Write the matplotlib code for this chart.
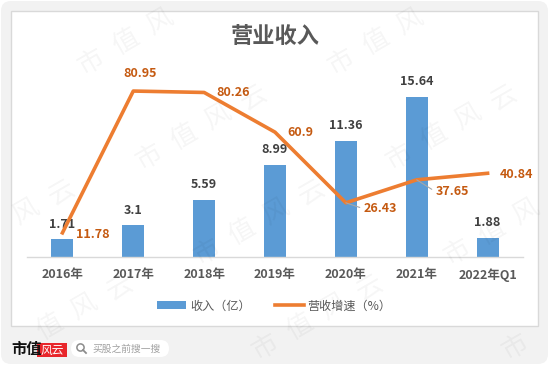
import numpy as np
import matplotlib.pyplot as plt
from matplotlib.patches import Rectangle, FancyBboxPatch, Circle
from matplotlib.lines import Line2D

plt.rcParams['font.family'] = ['Noto Sans CJK SC', 'DejaVu Sans']

# data
categories = ['2016年', '2017年', '2018年', '2019年', '2020年', '2021年', '2022年Q1']
revenue = [1.71, 3.1, 5.59, 8.99, 11.36, 15.64, 1.88]          # 收入（亿）
growth = [11.78, 80.95, 80.26, 60.9, 26.43, 37.65, 40.84]       # 营收增速（%）
revenue_labels = ['1.71', '3.1', '5.59', '8.99', '11.36', '15.64', '1.88']
growth_labels = ['11.78', '80.95', '80.26', '60.9', '26.43', '37.65', '40.84']

# label placement (pixels from the point), leader lines for two of them
growth_offsets = [(14, -2), (7, 18), (12, 0), (12, 0), (18, -6), (19, -12), (12, -1)]
growth_ha = ['left', 'center', 'left', 'left', 'left', 'left', 'left']
growth_leader = [False, False, False, False, True, True, False]

BLUE = '#5b9bd5'
ORANGE = '#ed7d31'
ORANGE_TXT = '#c55a11'
GREY = '#595959'

W, H = 550, 366
fig = plt.figure(figsize=(W / 100, H / 100), dpi=100)

# card background
bg = fig.add_axes([0, 0, 1, 1], zorder=0)
bg.set_xlim(0, W)
bg.set_ylim(H, 0)
bg.axis('off')
bg.add_patch(FancyBboxPatch((1, 1), 547, 363, boxstyle='round,pad=0,rounding_size=10',
                            fc='#f2f2f2', ec='none'))
bg.add_patch(Rectangle((11, 11), 527, 315, fc='white', ec='#d9d9d9', lw=1))
bg.text(275, 37, '营业收入', ha='center', va='center', fontsize=16,
        fontweight='bold', color=GREY)

# footer logo + search box
bg.text(11, 349, '市值', ha='left', va='center', fontsize=11, fontweight='bold', color='#111111')
bg.add_patch(Rectangle((37, 343), 30, 14, fc='#e8262b', ec='none'))
bg.text(52, 350, '风云', ha='center', va='center', fontsize=8.5, color='white',
        fontstyle='italic')
bg.add_patch(FancyBboxPatch((71, 340), 98, 17, boxstyle='round,pad=0,rounding_size=8.5',
                            fc='white', ec='none'))
bg.add_patch(Circle((80.5, 347.5), 3.6, fc='none', ec='#8c8c8c', lw=1.1))
bg.add_line(Line2D([83, 86], [350, 353], color='#8c8c8c', lw=1.3))
bg.text(92, 348.5, '买股之前搜一搜', ha='left', va='center', fontsize=7, color='#a0a0a0')

# chart
ax = fig.add_axes([27 / W, 1 - 257 / H, 496 / W, 205 / H], zorder=1)
ax.patch.set_alpha(0)
x = np.arange(len(categories))
bars = ax.bar(x, revenue, width=0.31, color=BLUE, label='收入（亿）')
ax.set_xlim(-0.5, len(categories) - 0.5)
ax.set_ylim(0, 20)
for s in ['top', 'left', 'right']:
    ax.spines[s].set_visible(False)
ax.spines['bottom'].set_color('#d9d9d9')
ax.spines['bottom'].set_linewidth(1)
ax.set_yticks([])
ax.set_xticks(x, categories)
ax.tick_params(axis='x', length=0, pad=8, labelsize=9, labelcolor=GREY)
for t in ax.get_xticklabels():
    t.set_fontweight('bold')

for i, v in enumerate(revenue):
    ax.annotate(revenue_labels[i], (x[i], v), xytext=(0, 15), textcoords='offset pixels',
                ha='center', va='center', fontsize=9, fontweight='bold', color='#404040')

ax2 = ax.twinx()
ax2.set_ylim(0, 100)
ax2.axis('off')
line, = ax2.plot(x, growth, color=ORANGE, lw=2.6, solid_joinstyle='round',
                 label='营收增速（%）')

for i, v in enumerate(growth):
    kw = {}
    if growth_leader[i]:
        kw['arrowprops'] = dict(arrowstyle='-', color='#a6a6a6', lw=0.8,
                                shrinkA=1, shrinkB=0, relpos=(0, 0.5))
    ax2.annotate(growth_labels[i], (x[i], v), xytext=growth_offsets[i],
                 textcoords='offset pixels', ha=growth_ha[i], va='center',
                 fontsize=9, fontweight='bold', color=ORANGE_TXT, **kw)

leg = ax.legend([bars, line], ['收入（亿）', '营收增速（%）'], loc='center',
                bbox_to_anchor=(0.499, 1 - 306 / H), bbox_transform=fig.transFigure,
                ncol=2, frameon=False, fontsize=8.7, handlelength=2.4,
                handleheight=0.6, handletextpad=0.3, columnspacing=2.0)
for t in leg.get_texts():
    t.set_color(GREY)

# watermark, faint diagonal "市值风云" tiles
wm = fig.add_axes([0, 0, 1, 1], zorder=5)
wm.set_xlim(0, W)
wm.set_ylim(H, 0)
wm.axis('off')
ang = np.deg2rad(30)
d = np.array([np.cos(ang), -np.sin(ang)])
for i in range(-2, 4):
    for j in range(4):
        c = np.array([143 + 250 * i + 58 * j, 32 + 95 * j])
        for k, ch in enumerate('市值风云'):
            p = c + (k - 1.5) * 40 * d
            if not (16 < p[0] < W - 16 and 16 < p[1] < H - 16):
                continue
            wm.text(p[0], p[1], ch, rotation=30, ha='center', va='center',
                    fontsize=19, fontweight='light', color='black', alpha=0.04)

fig.savefig('out.png', dpi=100)
